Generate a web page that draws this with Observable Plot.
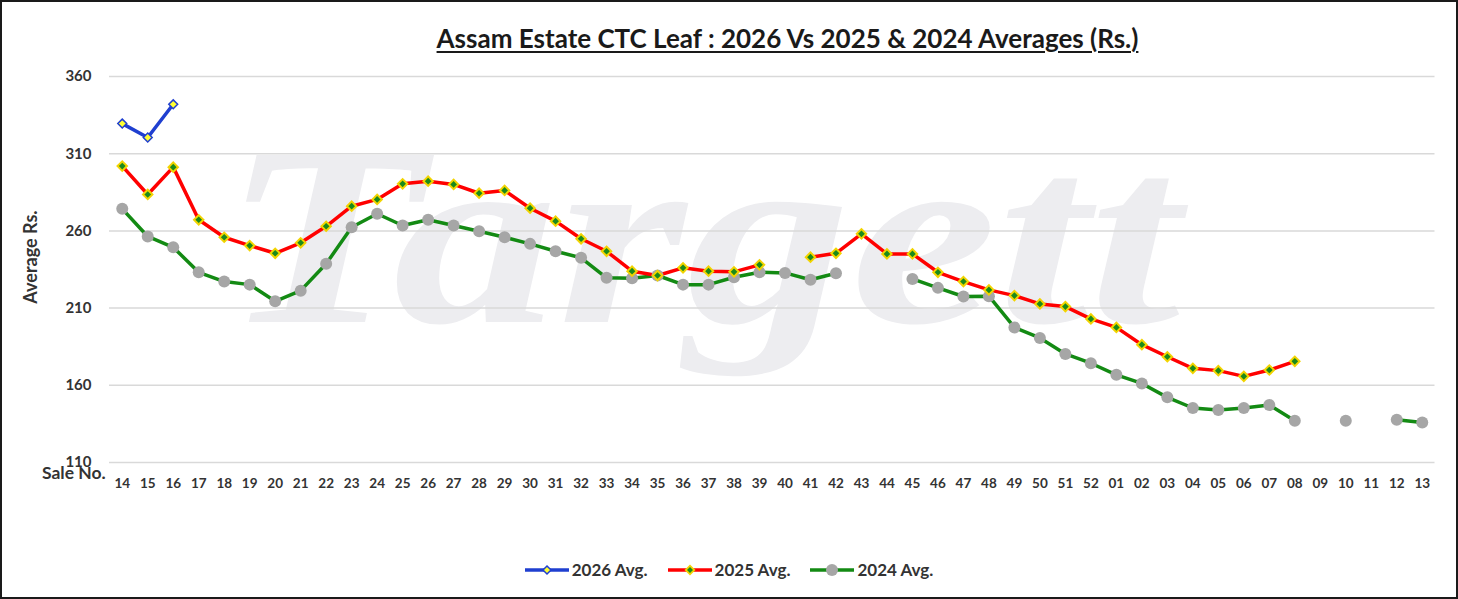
<!DOCTYPE html>
<html>
<head>
<meta charset="utf-8">
<script src="https://cdn.jsdelivr.net/npm/d3@7"></script>
<script src="https://cdn.jsdelivr.net/npm/@observablehq/plot@0.6"></script>
<style>
  html, body { margin: 0; padding: 0; background: #fff; }
  #wrap { position: relative; width: 1458px; height: 599px; overflow: hidden; font-family: Lato, "Open Sans", sans-serif; }
  #frame { position: absolute; left: 0; top: 0; width: 1458px; height: 599px; box-sizing: border-box; border: 2px solid #1a1a1a; pointer-events: none; }
  #wm { position: absolute; left: 0; top: 0; }
  #chart { position: absolute; left: 0; top: 0; }
  #title { position: absolute; left: 0; width: 1575px; top: 22px; text-align: center; font-weight: bold; font-size: 26px; color: #1a1a1a; }
  #title span { text-decoration: underline; text-underline-offset: 3px; text-decoration-thickness: 1.5px; }
  #ylabel { position: absolute; left: 30px; top: 257px; transform: translate(-50%, -50%) rotate(-90deg); font-weight: bold; font-size: 18px; color: #333; white-space: nowrap; }
  #saleno { position: absolute; left: 42px; top: 462px; font-weight: bold; font-size: 17.5px; color: #333; }
  #legend { position: absolute; left: 0; width: 1458px; top: 559px; display: flex; justify-content: center; gap: 20px; font-weight: bold; font-size: 17px; color: #333; }
  .item { display: flex; align-items: center; gap: 3px; }
</style>
</head>
<body>
<div id="wrap">
  <svg id="wm" width="1458" height="599"><text x="222" y="322" textLength="958" lengthAdjust="spacingAndGlyphs" font-family="'Liberation Serif', serif" font-weight="bold" font-style="italic" font-size="255" fill="#ededf0">Targett</text></svg>
  <div id="chart"></div>
  <div id="title"><span>Assam Estate CTC Leaf : 2026 Vs 2025 &amp; 2024 Averages (Rs.)</span></div>
  <div id="ylabel">Average Rs.</div>
  <div id="saleno">Sale No.</div>
  <div id="legend"></div>
  <div id="frame"></div>
</div>
<script>
const sales = ["14","15","16","17","18","19","20","21","22","23","24","25","26","27","28","29","30","31","32","33","34","35","36","37","38","39","40","41","42","43","44","45","46","47","48","49","50","51","52","01","02","03","04","05","06","07","08","09","10","11","12","13"];

const avg2026 = [329.5, 320.5, 342];

const avg2025 = [302, 283.6, 301.3, 267.2, 255.9, 250.5, 245.5, 252.3, 263, 276, 280.4, 290.5, 292.2, 290.1, 284.4, 286.2, 274.7, 266.3, 254.9, 246.8, 233.9, 231.1, 236.1, 233.9, 233.5, 238, null, 243, 245.5, 258.1, 245.1, 245.1, 233.2, 227.2, 221.8, 218.1, 212.7, 211, 203, 197.5, 186.3, 178.5, 171, 169.5, 165.8, 169.9, 175.5];

const avg2024 = [274.3, 256.4, 249.4, 233.2, 227.2, 225.2, 214.4, 221.3, 238.7, 262.4, 271.1, 263.5, 267.2, 263.5, 259.8, 255.9, 251.6, 246.8, 242.6, 229.6, 229.3, 231.1, 225.2, 225.2, 230, 233.2, 232.8, 228.4, 232.6, null, null, 228.9, 223.1, 217.5, 217.7, 197.5, 190.7, 180.3, 174.3, 166.8, 161.2, 152.2, 145.3, 144, 145.3, 147.2, 137, null, 137, null, 137.7, 135.9];

const yTicks = [110, 160, 210, 260, 310, 360];

const seriesNames = ["2026 Avg.", "2025 Avg.", "2024 Avg."];
const lineColors = ["#1f3fd0", "#ff0000", "#138a13"];

// each row keeps its position in the sale sequence so the chart can use a continuous category axis
function rows(values) {
  return sales.map((s, i) => ({idx: i, sale: s, value: values[i] == null ? null : values[i]}));
}
const r2026 = rows(avg2026);
const r2025 = rows(avg2025);
const r2024 = rows(avg2024);
const defined = d => d.value != null;

const chart = Plot.plot({
  width: 1458,
  height: 599,
  marginLeft: 109,
  marginRight: 23.5,
  marginTop: 76,
  marginBottom: 137,
  style: {fontFamily: "Lato, 'Open Sans', sans-serif", background: "transparent", overflow: "visible"},
  x: {type: "linear", domain: [-0.5, sales.length - 0.5], label: null},
  y: {domain: [110, 360], label: null},
  marks: [
    Plot.ruleY(yTicks, {stroke: "#d9d9d9", strokeWidth: 1.5}),
    Plot.axisY({ticks: yTicks, tickSize: 0, tickPadding: 18, fontSize: 15, fontWeight: "bold", fill: "#333", label: null}),
    Plot.axisX({ticks: d3.range(sales.length), tickFormat: i => sales[i], tickSize: 0, tickPadding: 16, fontSize: 13.5, fontWeight: "bold", fill: "#333", label: null}),
    Plot.line(r2024, {x: "idx", y: "value", stroke: lineColors[2], strokeWidth: 3.5, strokeLinejoin: "round"}),
    Plot.line(r2025, {x: "idx", y: "value", stroke: lineColors[1], strokeWidth: 3.5, strokeLinejoin: "round"}),
    Plot.line(r2026, {x: "idx", y: "value", stroke: lineColors[0], strokeWidth: 3.5, strokeLinejoin: "round"}),
    Plot.dot(r2024.filter(defined), {x: "idx", y: "value", r: 6, fill: "#a6a6a6", stroke: "none"}),
    Plot.dot(r2025.filter(defined), {x: "idx", y: "value", symbol: "diamond2", r: 5.5, fill: "#f2d400", stroke: "none"}),
    Plot.dot(r2025.filter(defined), {x: "idx", y: "value", symbol: "diamond2", r: 3, fill: "#1a8a1a", stroke: "none"}),
    Plot.dot(r2026.filter(defined), {x: "idx", y: "value", symbol: "diamond2", r: 4, fill: "#ffff33", stroke: "#1f3fd0", strokeWidth: 1.5})
  ]
});
document.getElementById("chart").appendChild(chart);

// legend
const legend = document.getElementById("legend");
const markerSvg = [
  '<polygon points="22,3 26,7 22,11 18,7" fill="#ffff33" stroke="#1f3fd0" stroke-width="1.5"/>',
  '<polygon points="22,1.5 27.5,7 22,12.5 16.5,7" fill="#f2d400"/><polygon points="22,4 25,7 22,10 19,7" fill="#1a8a1a"/>',
  '<circle cx="22" cy="7" r="6" fill="#a6a6a6"/>'
];
seriesNames.forEach((name, i) => {
  const item = document.createElement("div");
  item.className = "item";
  item.innerHTML = '<svg width="44" height="14"><line x1="0" y1="7" x2="44" y2="7" stroke="' + lineColors[i] + '" stroke-width="3.5"/>' + markerSvg[i] + '</svg><span>' + name + '</span>';
  legend.appendChild(item);
});
</script>
</body>
</html>
